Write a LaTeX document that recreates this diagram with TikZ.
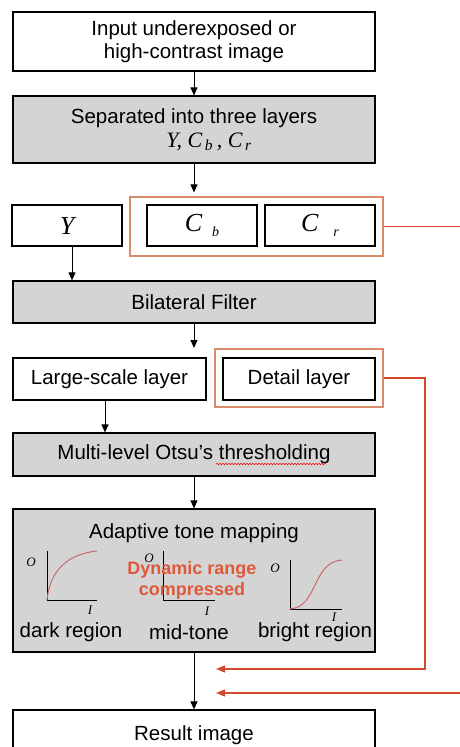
\documentclass[tikz,border=0pt]{standalone}
\usepackage{fontspec}
\setmainfont{Liberation Sans}
\newfontfamily\tms{Liberation Serif}
\usepackage{tikz}
\usetikzlibrary{arrows.meta,positioning,calc,fit,decorations.pathmorphing}
\definecolor{grpline}{HTML}{D98C6A}
\definecolor{fbline}{HTML}{D2492B}
\definecolor{dyntext}{HTML}{E0583A}
\definecolor{crvcol}{HTML}{C86A6A}
\definecolor{boxgray}{HTML}{D4D4D4}
\newcommand{\txt}{\fontsize{20.5}{23}\selectfont}
\newcommand{\var}[1]{{\tms\itshape #1}}
\tikzset{
  blk/.style  ={draw,line width=1.2pt,fill=white,inner sep=0pt,align=center,font=\txt},
  wide/.style ={blk,minimum width=362pt},
  gbox/.style ={fill=boxgray},
  grp/.style  ={draw=grpline,line width=1.2pt,inner sep=0pt},
  flow/.style ={-{Triangle[length=8pt,width=7pt]},line width=1pt},
  fback/.style={-{Triangle[length=9pt,width=7pt]},line width=1.3pt,fbline},
  ax/.style   ={line width=1pt},
  crv/.style  ={line width=1pt,crvcol},
  lbl/.style  ={font=\tms\itshape\fontsize{13}{13}\selectfont,inner sep=0pt},
  capt/.style ={font=\txt,inner sep=0pt},
}

\begin{document}
\begin{tikzpicture}[x=1pt,y=-1pt]
  \useasboundingbox (0,0) rectangle (459,747);
  % main column
  \node[wide,minimum height=59pt] (in) at (194,41.5) {Input underexposed or\\high-contrast image};
  \node[wide,gbox,minimum height=67pt] (sep) at (194,129.5)
       {Separated into three layers\\[1pt]\hspace*{30pt}{\tms\itshape\fontsize{22}{24}\selectfont
        Y, C\textsubscript{\,b}\,, C\textsubscript{\,r}}};
  % the three layers
  \node[blk,minimum width=110pt,minimum height=41pt] (y) at (67,225.5) {\var{\fontsize{26}{26}\selectfont Y}};
  \node[blk,minimum width=110pt,minimum height=41pt] (cb) at (202,225.5)
       {\var{\fontsize{26}{26}\selectfont C}\hspace{10pt}\raisebox{-5pt}{\var{\fontsize{14}{14}\selectfont b}}};
  \node[blk,minimum width=110pt,minimum height=41pt] (cr) at (320,225.5)
       {\var{\fontsize{26}{26}\selectfont C}\hspace{15pt}\raisebox{-5pt}{\var{\fontsize{14}{14}\selectfont r}}};
  \node[grp,minimum width=253pt,minimum height=59pt] (cg) at (256.5,226.5) {};
  \node[wide,gbox,minimum height=42pt] (bil) at (194,302) {Bilateral Filter};
  \coordinate (split) at (194,348);
  % base and detail
  \node[blk,minimum width=193pt,minimum height=42pt] (large) at (109.5,379) {Large-scale layer};
  \node[blk,minimum width=152pt,minimum height=42pt] (detail) at (299,379) {Detail layer};
  \node[grp,minimum width=168pt,minimum height=58pt] (dg) at (299,378) {};
  \node[wide,gbox,minimum height=43pt] (otsu) at (194,454.5) {Multi-level Otsu’s thresholding};
  \draw[red,line width=0.5pt,decorate,decoration={snake,amplitude=0.8pt,segment length=3pt}]
       (216,464) -- (326,464);
  % tone mapping
  \node[wide,gbox,minimum height=143pt] (tone) at (194,580.5) {};
  \node[capt] (tonetitle) at (194,533) {Adaptive tone mapping};
  \draw[ax] (47,551) -- (47,600) -- (97,600);
  \draw[crv] (47,600) .. controls (50,570) and (68,554) .. (97,551);
  \node[lbl] (o1) at (31,562) {O};
  \node[lbl] (i1) at (90,610) {I};
  \draw[ax] (163,551) -- (163,600) -- (215,600);
  \node[lbl] (o2) at (149,558) {O};
  \node[lbl] (i2) at (207,611) {I};
  \draw[ax] (290,560) -- (290,609) -- (342,609);
  \draw[crv] (290,609) .. controls (318,607) and (312,562) .. (342,560);
  \node[lbl] (o3) at (275,568) {O};
  \node[lbl] (i3) at (334,617) {I};
  \node[font=\bfseries\fontsize{18}{21}\selectfont,text=dyntext,align=center,inner sep=0pt] (dyn) at (192,580)
       {Dynamic range\\compressed};
  \node[capt] (dark) at (71,632) {dark region};
  \node[capt] (mid) at (189,632) {mid-tone};
  \node[capt] (bright) at (315,632) {bright region};
  \node[wide,minimum height=50pt] (res) at (194,735) {Result image};
  % flow arrows
  \draw[flow] (in) -- (sep);
  \draw[flow,shorten >=4pt] (sep.south) -- (sep.south |- cg.north);
  \draw[flow] (y.south -| 72,0) -- (bil.north -| 72,0);
  \draw[flow] (bil) -- (split);
  \draw[flow] (large.south -| 105,0) -- (otsu.north -| 105,0);
  \draw[flow] (otsu) -- (tone);
  \draw[flow] (tone) -- (res);
  % feedback of detail and chroma
  \coordinate (dk) at (425,669);
  \coordinate (j1) at (216,669);
  \coordinate (ck) at (470,693);
  \coordinate (j2) at (216,693);
  \draw[fback] (dg.east) -| (dk) -- (j1);
  \draw[fback] (cg.east) -| (ck) -- (j2);
\end{tikzpicture}
\end{document}
